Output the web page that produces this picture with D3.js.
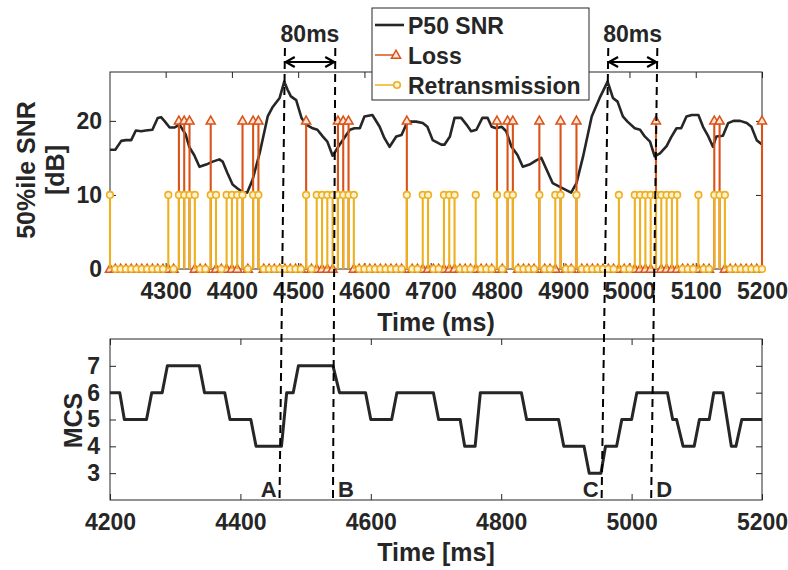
<!DOCTYPE html>
<html>
<head>
<meta charset="utf-8">
<script src="https://cdn.jsdelivr.net/npm/d3@7"></script>
<style>
  body { margin: 0; background: #fff; }
  text { font-family: "Liberation Sans", Arial, Helvetica, sans-serif; font-weight: bold; fill: #262626; }
</style>
</head>
<body>
<svg id="chart" width="788" height="570"></svg>
<script>
// ---- P50 SNR trace (dB) ----
const SNR_TIME = [4216,4224,4233,4240,4248,4255,4263,4270,4280,4288,4293,4298,4306,4313,4321,4330,4336,4343,4351,4361,
  4371,4381,4386,4393,4401,4408,4416,4423,4431,4442,4454,4461,4472,4479,4484,4489,4497,4505,4512,4522,
  4529,4537,4544,4552,4562,4578,4585,4593,4600,4612,4623,4630,4638,4648,4656,4665,4678,4688,4695,4703,
  4716,4721,4729,4736,4746,4754,4761,4769,4778,4786,4792,4799,4807,4814,4822,4831,4839,4849,4860,4867,
  4875,4884,4895,4912,4920,4930,4943,4955,4967,4975,4982,4990,4997,5008,5016,5023,5031,5038,5046,5056,
  5063,5071,5078,5086,5094,5104,5111,5119,5126,5131,5141,5149,5157,5167,5177,5184,5192,5200];
const SNR_VALUE = [16.1,16.1,17.3,17.4,17.4,18.7,18.6,18.7,18.8,20.4,20.5,20.0,19.1,19.1,19.5,18.2,16.4,15.4,13.8,14.1,
  14.5,14.8,14.5,13.0,11.4,10.9,10.4,10.3,12.0,15.7,20.6,21.8,23.1,25.3,24.2,23.3,22.8,20.4,19.5,19.0,
  18.8,17.9,17.2,15.3,16.7,18.8,19.0,19.0,20.6,20.8,19.2,17.7,16.5,17.9,18.1,19.9,19.9,19.7,19.2,17.4,
  16.8,16.8,17.9,20.4,20.4,19.5,18.6,18.8,20.4,20.4,19.2,19.0,19.2,18.6,16.5,15.4,13.8,14.1,14.7,15.0,
  13.4,11.6,11.1,10.3,11.6,15.2,20.6,23.1,25.3,23.1,22.6,20.6,19.9,19.0,18.8,17.9,17.2,15.2,15.6,16.6,
  17.8,19.0,19.0,20.6,20.8,20.8,19.2,17.9,16.5,17.9,18.0,19.7,20.0,20.0,19.7,19.2,17.4,16.8];

// ---- Per-sample loss / retransmission stems ----
const SAMPLE_TIME = [4216,4224,4232,4240,4248,4256,4264,4272,4280,4288,
  4296,4304,4312,4320,4328,4336,4344,4352,4360,4368,
  4376,4384,4392,4400,4408,4416,4424,4432,4440,4448,
  4456,4464,4472,4480,4488,4496,4504,4512,4520,4528,
  4536,4544,4552,4560,4568,4576,4584,4592,4600,4608,
  4616,4624,4632,4640,4648,4656,4664,4672,4680,4688,
  4696,4704,4712,4720,4728,4736,4744,4752,4760,4768,
  4776,4784,4792,4800,4808,4816,4824,4832,4840,4848,
  4856,4864,4872,4880,4888,4896,4904,4912,4920,4928,
  4936,4944,4952,4960,4968,4976,4984,4992,5000,5008,
  5016,5024,5032,5040,5048,5056,5064,5072,5080,5088,
  5096,5104,5112,5120,5128,5136,5144,5152,5160,5168,
  5176,5184,5192,5200];
const LOSS = [0,0,0,0,0,0,0,0,0,0,
  0,0,0,20,20,20,0,0,0,20,
  0,0,0,0,0,20,0,20,20,0,
  0,0,0,0,0,0,0,20,0,0,
  0,0,0,20,20,20,0,0,0,0,
  0,0,0,0,0,0,20,0,0,0,
  0,0,0,0,0,0,0,0,0,0,
  0,0,0,20,0,20,20,0,0,0,
  0,20,0,0,0,20,0,0,20,0,
  0,0,0,0,0,0,0,0,0,0,
  0,0,0,20,0,0,0,0,0,0,
  0,0,0,0,20,20,0,0,0,0,
  0,0,0,20];
const RETX = [10,0,0,0,0,0,0,0,0,0,
  0,10,0,10,10,10,10,0,0,10,
  10,0,10,10,10,10,0,10,10,0,
  0,0,0,0,0,0,0,10,0,10,
  10,10,10,10,10,10,10,0,0,0,
  0,0,0,0,0,0,10,0,0,10,
  10,0,0,10,10,10,0,0,0,10,
  0,0,0,10,0,10,10,0,0,0,
  0,10,0,0,10,10,0,0,10,0,
  0,0,0,0,0,0,10,0,0,10,
  10,10,10,10,10,10,10,10,0,0,
  0,10,0,0,10,10,10,0,0,0,
  0,0,0,0];

// ---- MCS index over time (vertices of the step trace) ----
const MCS_TIME = [4200,4215,4222,4256,4264,4280,4288,4337,4345,4376,4384,4416,4424,4463,4471,4481,4489,4542,4552,4592,
  4600,4632,4640,4696,4704,4737,4744,4760,4768,4831,4839,4888,4896,4927,4935,4953,4960,4977,4985,5000,
  5008,5055,5063,5069,5079,5096,5104,5119,5126,5140,5153,5160,5169,5200];
const MCS_VALUE = [6,6,5,5,6,6,7,7,6,6,5,5,4,4,6,6,7,7,6,6,
  5,5,6,6,5,5,4,4,6,6,5,5,4,4,3,3,4,4,5,5,
  6,6,5,5,4,4,5,5,6,6,4,4,5,5];

// ---- Axis ticks ----
const SNR_TICKS = [0, 10, 20];
const TOP_TIME_TICKS = [4300, 4400, 4500, 4600, 4700, 4800, 4900, 5000, 5100, 5200];
const MCS_TICKS = [3, 4, 5, 6, 7];
const BOTTOM_TIME_TICKS = [4200, 4400, 4600, 4800, 5000, 5200];

// ---- Event markers A-D (time where each guide crosses the upper / lower panel) ----
const EVENT_NAMES = ["A", "B", "C", "D"];
const EVENT_TOP_TIME = [4480, 4556, 4968, 5042];
const EVENT_BOTTOM_TIME = [4460, 4542, 4954, 5030];
const EVENT_SIDE = ["left", "right", "left", "right"];
const GAP_LABEL = "80ms";

const COLOR_SNR = "#262626", COLOR_LOSS = "#D95319", COLOR_RETX = "#EDB120";
const TICK_FONT = 23;

const svg = d3.select("#chart");

// Layout of the two panels
const panelA = { x0: 110, x1: 762, y0: 72, y1: 269 };
const panelB = { x0: 110, x1: 762, y0: 339, y1: 500 };

const xTop = d3.scaleLinear().domain([4216, 5200]).range([panelA.x0, panelA.x1]);
const yTop = d3.scaleLinear().domain([0, 26.6]).range([panelA.y1, panelA.y0]);
const xBot = d3.scaleLinear().domain([4200, 5200]).range([panelB.x0, panelB.x1]);
const yBot = d3.scaleLinear().domain([2, 8]).range([panelB.y1, panelB.y0]);

const fmt = d3.format("d");

function styleAxis(g) {
  g.attr("font-size", null).attr("font-family", null);
  g.select(".domain").remove();
  g.selectAll(".tick line").attr("stroke", "#262626").attr("stroke-width", 1);
  g.selectAll(".tick text").style("font-size", TICK_FONT + "px").attr("fill", "#262626");
}

function drawFrame(p, xs, ys, xTicks, yTicks, xPad, yPad) {
  const w = 6;
  svg.append("g").attr("transform", `translate(0,${p.y1})`)
    .call(d3.axisBottom(xs).tickValues(xTicks).tickFormat(fmt).tickSizeInner(-w).tickSizeOuter(0).tickPadding(xPad))
    .call(styleAxis);
  svg.append("g").attr("transform", `translate(0,${p.y0})`)
    .call(d3.axisTop(xs).tickValues(xTicks).tickSizeInner(-w).tickSizeOuter(0).tickFormat(""))
    .call(styleAxis);
  svg.append("g").attr("transform", `translate(${p.x0},0)`)
    .call(d3.axisLeft(ys).tickValues(yTicks).tickFormat(fmt).tickSizeInner(-w).tickSizeOuter(0).tickPadding(yPad))
    .call(styleAxis);
  svg.append("g").attr("transform", `translate(${p.x1},0)`)
    .call(d3.axisRight(ys).tickValues(yTicks).tickSizeInner(-w).tickSizeOuter(0).tickFormat(""))
    .call(styleAxis);
  svg.append("rect").attr("x", p.x0).attr("y", p.y0)
    .attr("width", p.x1 - p.x0).attr("height", p.y1 - p.y0)
    .attr("fill", "none").attr("stroke", "#262626").attr("stroke-width", 1);
}

// ===== Upper panel: SNR with loss / retransmission stems =====
drawFrame(panelA, xTop, yTop, TOP_TIME_TICKS, SNR_TICKS, 14, 8);

const snrPts = SNR_TIME.map((t, i) => [t, SNR_VALUE[i]]);
svg.append("path").datum(snrPts)
  .attr("d", d3.line().x(d => xTop(d[0])).y(d => yTop(d[1])))
  .attr("fill", "none").attr("stroke", COLOR_SNR).attr("stroke-width", 2.6)
  .attr("stroke-linejoin", "round");

const triangle = d3.symbol().type(d3.symbolTriangle).size(36);

function drawStems(values, color, marker) {
  const data = SAMPLE_TIME.map((t, i) => ({ t, v: values[i] }));
  const g = svg.append("g");
  g.selectAll("line").data(data.filter(d => d.v > 0)).join("line")
    .attr("x1", d => xTop(d.t)).attr("x2", d => xTop(d.t))
    .attr("y1", yTop(0)).attr("y2", d => yTop(d.v))
    .attr("stroke", color).attr("stroke-width", 2.1);
  if (marker === "triangle") {
    g.selectAll("path").data(data).join("path")
      .attr("d", triangle)
      .attr("transform", d => `translate(${xTop(d.t)},${yTop(d.v) + 0.5})`)
      .attr("fill", "#fbe3d6").attr("stroke", color).attr("stroke-width", 1.5);
  } else {
    g.selectAll("circle").data(data).join("circle")
      .attr("cx", d => xTop(d.t)).attr("cy", d => yTop(d.v)).attr("r", 3.3)
      .attr("fill", "#fdf2d8").attr("stroke", color).attr("stroke-width", 1.6);
  }
}
drawStems(LOSS, COLOR_LOSS, "triangle");
drawStems(RETX, COLOR_RETX, "circle");

svg.append("text").attr("x", (panelA.x0 + panelA.x1) / 2).attr("y", 331)
  .attr("text-anchor", "middle").style("font-size", "25px").text("Time (ms)");
const yLab = (panelA.y0 + panelA.y1) / 2 - 0.5;
svg.append("text").attr("transform", `translate(35,${yLab}) rotate(-90)`)
  .attr("text-anchor", "middle").style("font-size", "25px").text("50%ile SNR");
svg.append("text").attr("transform", `translate(64,${yLab}) rotate(-90)`)
  .attr("text-anchor", "middle").style("font-size", "25px").text("[dB]");

// ===== Lower panel: MCS =====
drawFrame(panelB, xBot, yBot, BOTTOM_TIME_TICKS, MCS_TICKS, 14, 10);

const mcsPts = MCS_TIME.map((t, i) => [t, MCS_VALUE[i]]);
svg.append("path").datum(mcsPts)
  .attr("d", d3.line().x(d => xBot(d[0])).y(d => yBot(d[1])))
  .attr("fill", "none").attr("stroke", COLOR_SNR).attr("stroke-width", 3)
  .attr("stroke-linejoin", "round");

svg.append("text").attr("x", (panelB.x0 + panelB.x1) / 2).attr("y", 561)
  .attr("text-anchor", "middle").style("font-size", "25px").text("Time [ms]");
svg.append("text").attr("transform", `translate(82,${(panelB.y0 + panelB.y1) / 2 + 1}) rotate(-90)`)
  .attr("text-anchor", "middle").style("font-size", "25px").text("MCS");

// ===== Event guides spanning both panels =====
const guideTop = 48, guideBottom = 500;
const guides = EVENT_NAMES.map((name, i) => ({
  name,
  xa: xTop(EVENT_TOP_TIME[i]),
  xb: xBot(EVENT_BOTTOM_TIME[i]),
  side: EVENT_SIDE[i]
}));
const xAt = (g, y) => g.xa + (g.xb - g.xa) * (y - guideTop) / (guideBottom - guideTop);

svg.append("g").selectAll("line").data(guides).join("line")
  .attr("x1", d => d.xa).attr("y1", guideTop)
  .attr("x2", d => d.xb).attr("y2", guideBottom)
  .attr("stroke", "#000").attr("stroke-width", 2).attr("stroke-dasharray", "8,5");

svg.append("g").selectAll("text").data(guides).join("text")
  .attr("x", d => d.side === "left" ? d.xb - 3 : d.xb + 5)
  .attr("y", 497)
  .attr("text-anchor", d => d.side === "left" ? "end" : "start")
  .style("font-size", "22px").attr("fill", "#000").text(d => d.name);

// Double arrows measuring the gap between paired guides
const arrowY = 62;
for (let k = 0; k + 1 < guides.length; k += 2) {
  const xl = xAt(guides[k], arrowY), xr = xAt(guides[k + 1], arrowY);
  const ga = svg.append("g").attr("stroke", "#000").attr("stroke-width", 2.2).attr("fill", "none");
  ga.append("line").attr("x1", xl).attr("x2", xr).attr("y1", arrowY).attr("y2", arrowY);
  ga.append("path").attr("d", `M${xl + 10},${arrowY - 5}L${xl + 1},${arrowY}L${xl + 10},${arrowY + 5}`);
  ga.append("path").attr("d", `M${xr - 10},${arrowY - 5}L${xr - 1},${arrowY}L${xr - 10},${arrowY + 5}`);
  svg.append("text").attr("x", (xl + xr) / 2).attr("y", 42)
    .attr("text-anchor", "middle").style("font-size", "23px").attr("fill", "#000").text(GAP_LABEL);
}

// ===== Legend =====
const lg = svg.append("g").attr("transform", "translate(372,8)");
lg.append("rect").attr("width", 217).attr("height", 92)
  .attr("fill", "#fff").attr("stroke", "#262626").attr("stroke-width", 1);
const legendItems = [
  { label: "P50 SNR", color: COLOR_SNR, marker: null, w: 2.6 },
  { label: "Loss", color: COLOR_LOSS, marker: "triangle", w: 1.5 },
  { label: "Retransmission", color: COLOR_RETX, marker: "circle", w: 1.5 }
];
legendItems.forEach((it, i) => {
  const cy = 17 + i * 30;
  lg.append("line").attr("x1", 3).attr("x2", it.marker ? 25 : 32).attr("y1", cy).attr("y2", cy)
    .attr("stroke", it.color).attr("stroke-width", it.w);
  if (it.marker === "triangle") {
    lg.append("path").attr("d", triangle).attr("transform", `translate(24,${cy + 0.5})`)
      .attr("fill", "#fbe3d6").attr("stroke", it.color).attr("stroke-width", 1.5);
  } else if (it.marker === "circle") {
    lg.append("circle").attr("cx", 25).attr("cy", cy).attr("r", 3.3)
      .attr("fill", "#fdf2d8").attr("stroke", it.color).attr("stroke-width", 1.6);
  }
  lg.append("text").attr("x", 36).attr("y", cy + 8.5).style("font-size", "23px")
    .attr("fill", "#000").text(it.label);
});
</script>
</body>
</html>
